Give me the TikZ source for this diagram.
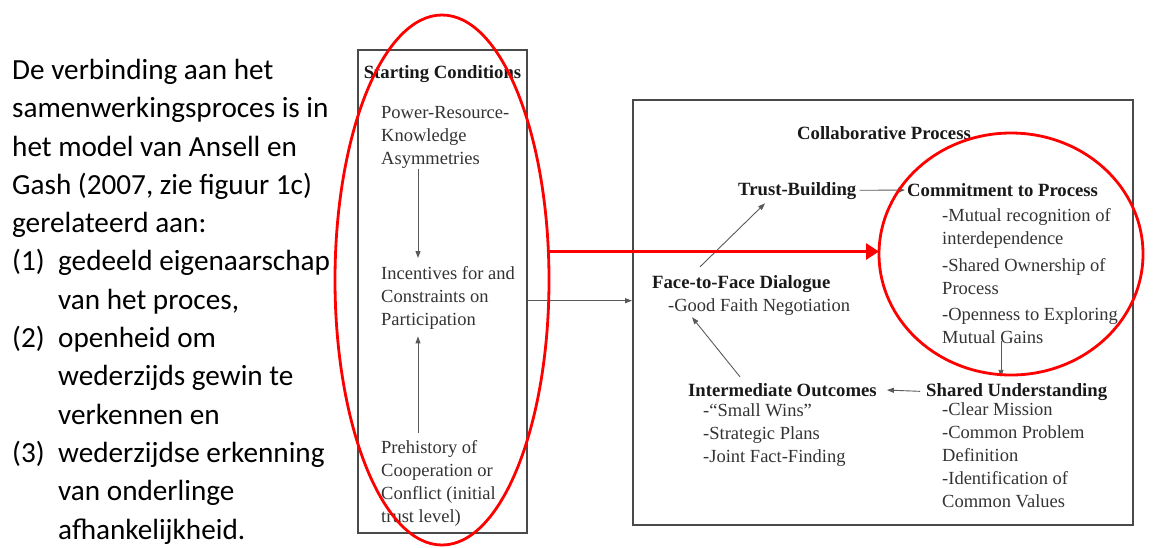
\documentclass[tikz,border=0pt]{standalone}
\usepackage{fontspec}
\setmainfont{Carlito}
\newfontfamily\timesfont{Liberation Serif}
\usetikzlibrary{
	positioning,
	arrows.meta,
	shapes.geometric
}
\definecolor{boxgray}{HTML}{4A4A4A}
\definecolor{textgray}{HTML}{333333}
\definecolor{ringred}{HTML}{FF0000}

\begin{document}
\begin{tikzpicture}[x=1pt,y=-1pt,
	frame/.style={draw=boxgray,line width=2pt,inner sep=0pt},
	head/.style={font=\timesfont\fontsize{18.7}{23}\selectfont\bfseries,text=black!90,inner sep=0pt,anchor=base west},
	item/.style={font=\timesfont\fontsize{18.5}{23}\selectfont,text=textgray,inner sep=0pt,align=left,anchor=north west},
	link/.style={draw=gray!70!black,line width=0.9pt,-{Triangle[length=7pt,width=5pt]}},
	ring/.style={ellipse,draw=ringred,line width=2.8pt,inner sep=0pt,outer sep=0pt}]
	\useasboundingbox (0,0) rectangle (1153,547);

	\node[font=\fontsize{29.2}{38.3}\selectfont,align=left,anchor=north west,inner sep=0pt] (intro) at (12,59) {De verbinding aan het\\samenwerkingsproces is in\\het model van Ansell en\\Gash (2007, zie figuur 1c)\\gerelateerd aan:\\\makebox[46pt][l]{(1)}gedeeld eigenaarschap\\\hspace*{46pt}van het proces,\\\makebox[46pt][l]{(2)}openheid om\\\hspace*{46pt}wederzijds gewin te\\\hspace*{46pt}verkennen en\\\makebox[46pt][l]{(3)}wederzijdse erkenning\\\hspace*{46pt}van onderlinge\\\hspace*{46pt}afhankelijkheid.};

	\node[frame,minimum width=169,minimum height=483] (start) at (442.5,291.5) {};
	\node[head,anchor=base] (starttitle) at (442.5,78) {Starting Conditions};
	\node[item] (power) at (381,106) {Power-Resource-\\Knowledge\\Asymmetries};
	\node[item] (incent) at (381,266) {Incentives for and\\Constraints on\\Participation};
	\node[item] (prehist) at (381,440) {Prehistory of\\Cooperation or\\Conflict (initial\\trust level)};

	\draw[link,shorten >=8pt] ([xshift=37pt]power.south west) -- ([xshift=37pt]incent.north west);
	\draw[link,shorten <=7pt,shorten >=7pt] ([xshift=37pt]prehist.north west) -- ([xshift=37pt]incent.south west);

	\node[frame,minimum width=500,minimum height=425] (proc) at (883,312.5) {};
	\node[head,anchor=base] (proctitle) at (884,139) {Collaborative Process};
	\node[head] (trust) at (738,195) {Trust-Building};
	\node[head] (commit) at (907,196) {Commitment to Process};
	\node[item] (commititems) at (942,208) {-Mutual recognition of\\interdependence\\[4pt]-Shared Ownership of\\Process\\[3pt]-Openness to Exploring\\Mutual Gains};
	\node[head] (face) at (652,288) {Face-to-Face Dialogue};
	\node[item] (faceitems) at (668,298) {-Good Faith Negotiation};
	\node[head] (inter) at (688,396) {Intermediate Outcomes};
	\node[item] (interitems) at (703,403) {-“Small Wins”\\-Strategic Plans\\-Joint Fact-Finding};
	\node[head] (shared) at (926,396) {Shared Understanding};
	\node[item] (shareditems) at (942,402) {-Clear Mission\\-Common Problem\\Definition\\-Identification of\\Common Values};

	\draw[link] ([yshift=-3pt]incent.east -| start.east) -- ([yshift=-3pt]incent.east -| proc.west);
	\draw[link,shorten <=3pt,shorten >=2pt] (trust) -- (commit);
	\draw[link] ([xshift=48pt,yshift=8pt]face.north west) -- ([xshift=27pt,yshift=-4pt]trust.south west);
	\draw[link] ([xshift=59pt,yshift=3pt]commititems.south west) -- ([xshift=75pt,yshift=6pt]shared.north west);
	\draw[link,shorten <=6pt,shorten >=10pt] (shared.west) -- (inter.east);
	\draw[link] ([xshift=52pt,yshift=6pt]inter.north west) -- ([xshift=24pt,yshift=-2pt]faceitems.south west);

	\node[ring,minimum width=214,minimum height=530] (leftring) at (442,280) {};
	\node[ring,minimum width=264,minimum height=242] (rightring) at (1011,254) {};
	\draw[ringred,line width=2.8pt,-{Triangle[length=13pt,width=16pt]}] (leftring.15) -- (leftring.15 -| rightring.west);
\end{tikzpicture}
\end{document}
